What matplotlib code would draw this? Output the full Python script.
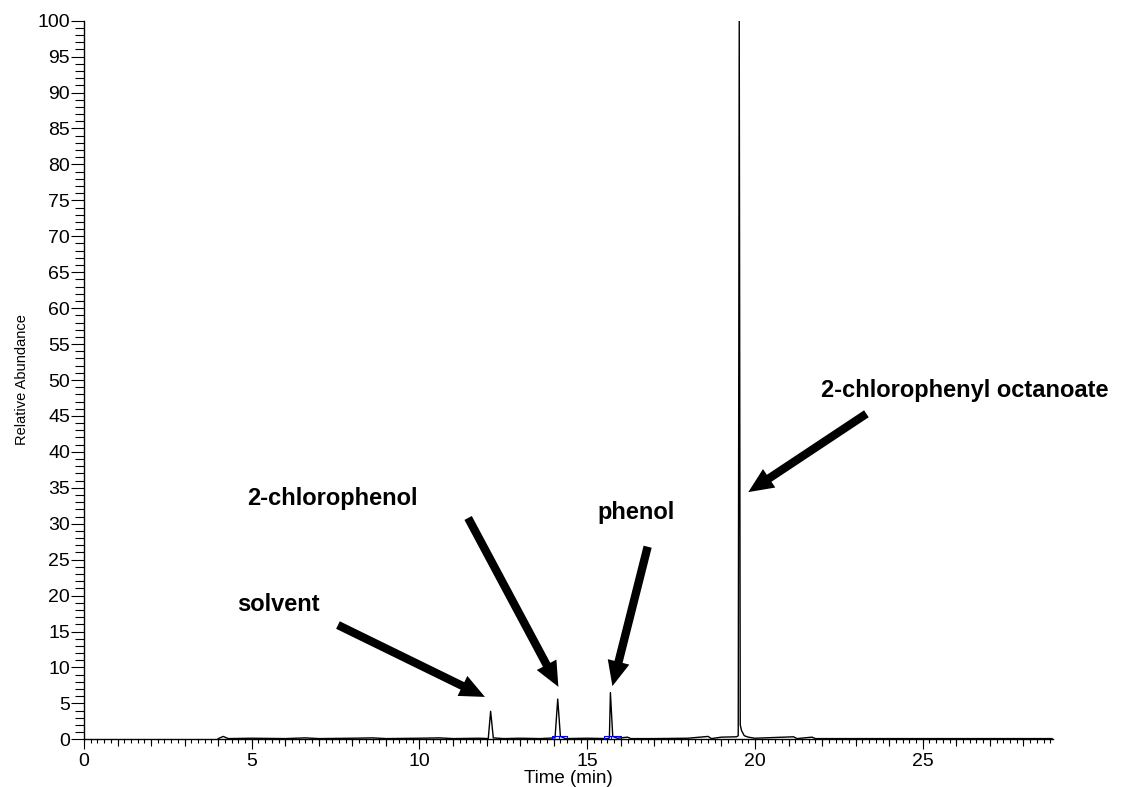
import numpy as np
import matplotlib
matplotlib.use('Agg')
import matplotlib.pyplot as plt
from matplotlib.ticker import MultipleLocator, NullFormatter

plt.rcParams['font.family'] = ['Liberation Sans', 'DejaVu Sans']

# chromatogram trace (time in min, relative abundance in %)
time = [4.0, 4.15, 4.3, 5.0, 6.0, 6.6, 7.0, 8.0, 8.6, 9.0, 10.0, 10.6, 11.0,
        11.8, 12.05, 12.12, 12.2, 12.5, 13.0, 13.6, 14.04, 14.12, 14.2, 14.35,
        15.0, 15.6, 15.66, 15.69, 15.76, 15.9, 16.2, 16.3, 17.0, 18.0, 18.6,
        18.7, 19.0, 19.45, 19.5, 19.53, 19.56, 19.6, 19.68, 19.8, 20.0, 21.15,
        21.25, 21.7, 21.8, 23.0, 25.0, 27.0, 28.85]
abundance = [0.1, 0.4, 0.1, 0.15, 0.1, 0.2, 0.1, 0.15, 0.2, 0.1, 0.15, 0.2, 0.1,
             0.15, 0.1, 3.9, 0.2, 0.1, 0.15, 0.1, 0.2, 5.6, 0.4, 0.1,
             0.15, 0.1, 0.2, 6.5, 0.4, 0.15, 0.3, 0.1, 0.1, 0.15, 0.4,
             0.1, 0.3, 0.35, 0.5, 100.0, 2.0, 1.2, 0.5, 0.3, 0.15, 0.35,
             0.1, 0.3, 0.1, 0.1, 0.1, 0.1, 0.1]

# integration windows (start, apex, end) in min
integ_start = [13.96, 15.51]
integ_apex = [14.16, 15.71]
integ_end = [14.41, 16.01]

labels = ['solvent', '2-chlorophenol', 'phenol', '2-chlorophenyl octanoate']
# label position, arrow tail, arrow head (data coords)
label_xy = [(4.56, 18.7), (4.86, 33.5), (15.30, 31.5), (21.97, 48.5)]
arrow_tail = [(7.57, 15.9), (11.45, 30.8), (16.80, 26.8), (23.32, 45.3)]
arrow_head = [(11.95, 5.9), (14.14, 7.3), (15.75, 7.4), (19.80, 34.4)]

fig = plt.figure(figsize=(11.21, 7.87), dpi=100)
ax = fig.add_axes([0.0749, 0.0606, 0.8644, 0.9131])

ax.plot(time, abundance, color='black', lw=1.0, zorder=3)

for s, a, e in zip(integ_start, integ_apex, integ_end):
    ax.plot([s, s, e, e, s], [-0.1, 0.45, 0.45, -0.1, -0.1], color='blue', lw=0.8, zorder=4)
    ax.plot([a, a], [-0.1, 0.45], color='blue', lw=0.8, zorder=4)

for lab, xy, tail, head in zip(labels, label_xy, arrow_tail, arrow_head):
    ax.text(xy[0], xy[1], lab, fontsize=17, fontweight='bold', ha='left', va='center', clip_on=False)
    ax.annotate('', xy=head, xytext=tail,
                arrowprops=dict(arrowstyle='simple,head_width=0.8,head_length=0.9,tail_width=0.3',
                                mutation_scale=20, facecolor='black', edgecolor='black', lw=0,
                                shrinkA=0, shrinkB=0))

ax.set_xlim(0, 28.88)
ax.set_ylim(0, 100)
ax.spines['top'].set_visible(False)
ax.spines['right'].set_visible(False)
ax.spines['left'].set_linewidth(1.0)
ax.spines['bottom'].set_linewidth(1.0)

ax.xaxis.set_major_locator(MultipleLocator(5))
ax.xaxis.set_minor_locator(MultipleLocator(1))
ax.yaxis.set_major_locator(MultipleLocator(5))
ax.yaxis.set_minor_locator(MultipleLocator(1))
ax.tick_params(axis='x', which='major', direction='out', length=7.2, width=0.8, pad=3, labelsize=14)
ax.tick_params(axis='x', which='minor', direction='out', length=5, width=0.8)
ax.tick_params(axis='y', which='major', direction='out', length=9.4, width=0.8, pad=0.5, labelsize=14)
ax.tick_params(axis='y', which='minor', direction='out', length=6.5, width=0.8)

# finest ticks on time axis
sec = ax.secondary_xaxis('bottom')
sec.xaxis.set_major_locator(MultipleLocator(0.2))
sec.xaxis.set_major_formatter(NullFormatter())
sec.tick_params(direction='out', length=2.9, width=0.8)
sec.spines['bottom'].set_visible(False)

ax.set_xlabel('Time (min)', fontsize=13.5, labelpad=0)
ax.set_ylabel('Relative Abundance', fontsize=10.5, labelpad=6)

fig.savefig('out.png', dpi=100)
